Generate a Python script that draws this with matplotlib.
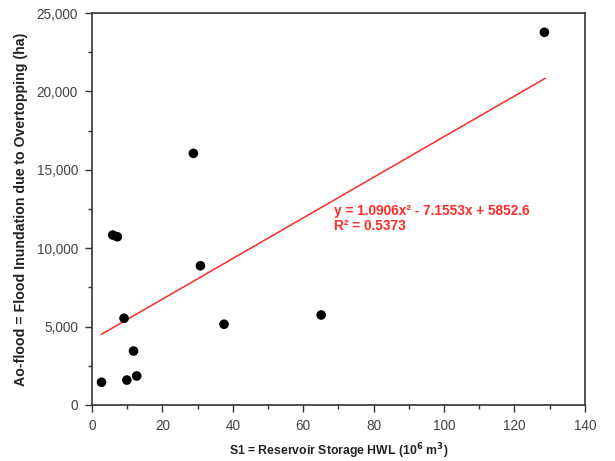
import matplotlib
matplotlib.use('Agg')
import matplotlib.pyplot as plt
from matplotlib.ticker import MultipleLocator, FuncFormatter

plt.rcParams['font.family'] = ['Liberation Sans', 'DejaVu Sans']

# data
storage = [128.5, 28.8, 5.9, 7.2, 30.8, 9.1, 37.5, 65.1, 11.8, 2.7, 9.9, 12.7]
flood = [23770, 16050, 10840, 10730, 8880, 5530, 5150, 5740, 3440, 1450, 1590, 1850]
trend_x = [2.7, 128.7]
trend_y = [4510, 20830]
eq_text = 'y = 1.0906x² - 7.1553x + 5852.6\nR² = 0.5373'
RED = '#ff2a2a'

fig = plt.figure(figsize=(6.15, 4.61), dpi=100)
ax = fig.add_axes([0.1496, 0.1215, 0.8014, 0.8503])

ax.plot(trend_x, trend_y, color=RED, lw=1.1, zorder=2)
ax.scatter(storage, flood, s=48, color='black', edgecolors='none', zorder=3)
ax.text(68.6, 11160, eq_text, color=RED, fontsize=9.8, fontweight='bold',
        va='baseline', ha='left', linespacing=1.05)

ax.set_xlim(0, 140)
ax.set_ylim(0, 25000)
ax.xaxis.set_major_locator(MultipleLocator(20))
ax.xaxis.set_minor_locator(MultipleLocator(10))
ax.yaxis.set_major_locator(MultipleLocator(5000))
ax.yaxis.set_minor_locator(MultipleLocator(2500))
ax.yaxis.set_major_formatter(FuncFormatter(lambda v, p: f'{int(v):,}'))

ax.tick_params(which='major', direction='out', length=5, width=1.0, colors='#333333',
               labelsize=9.8, labelcolor='#444444', pad=5)
ax.tick_params(which='minor', direction='out', length=3, width=1.0, colors='#333333')
for s in ax.spines.values():
    s.set_linewidth(1.2)
    s.set_color('#333333')

ax.set_xlabel('S1 = Reservoir Storage HWL (10$^{\\mathbf{6}}$ m$^{\\mathbf{3}}$)',
              fontsize=8.8, fontweight='bold', color='#222222', labelpad=6)
ax.set_ylabel('Ao-flood = Flood Inundation due to Overtopping (ha)',
              fontsize=10.2, fontweight='bold', color='#222222', labelpad=6)

fig.savefig('out.png', dpi=100)
